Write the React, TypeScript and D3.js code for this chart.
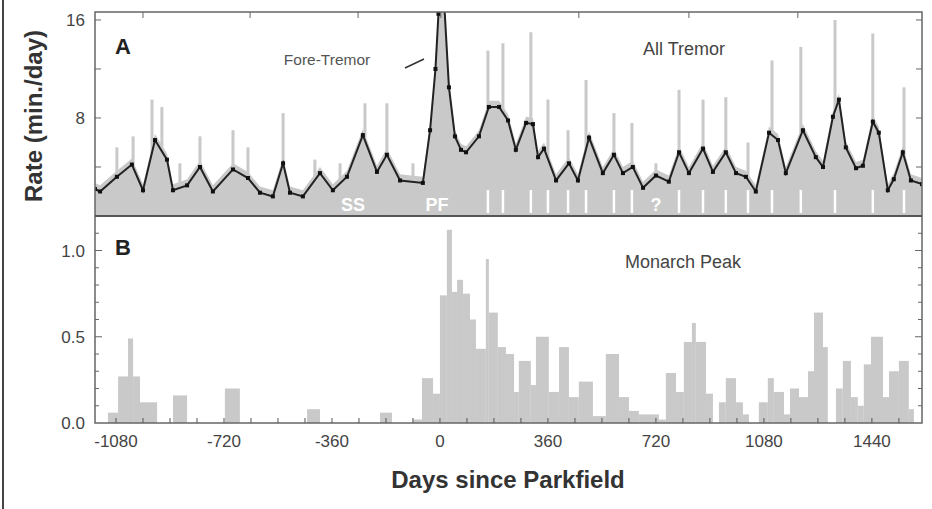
import * as d3 from 'd3';

const W = 932;
const H = 509;
const left = 95;
const right = 922;
const aTop = 12;
const mid = 216;
const bBottom = 423;

// panel A smoothed rate (day, min/day)
const smoothDays = [-1150, -1133, -1077, -1027, -990, -950, -910, -890, -843, -800, -757, -690, -640, -600, -557, -523, -500, -457, -400, -357, -310, -257, -210, -177, -133, -57, -33, -15, -5, 5, 15, 30, 50, 70, 87, 130, 163, 197, 227, 253, 287, 310, 327, 347, 387, 430, 460, 497, 543, 580, 610, 643, 677, 720, 763, 797, 830, 877, 910, 953, 987, 1020, 1053, 1097, 1127, 1153, 1210, 1253, 1277, 1310, 1330, 1353, 1387, 1410, 1443, 1463, 1493, 1513, 1543, 1570, 1607];
const smoothVals = [2.2, 2.0, 3.2, 4.2, 2.1, 6.2, 4.6, 2.1, 2.5, 4.0, 2.0, 3.8, 3.1, 1.9, 1.6, 4.3, 1.9, 1.6, 3.5, 2.1, 3.2, 6.6, 3.6, 5.0, 2.9, 2.7, 7.0, 12.0, 16.5, 17.5, 17.0, 10.5, 6.5, 5.4, 5.2, 6.5, 8.9, 8.9, 7.8, 5.4, 7.6, 7.5, 4.8, 5.5, 2.9, 4.3, 2.9, 6.4, 3.5, 5.0, 3.5, 4.0, 2.3, 3.3, 2.8, 5.2, 3.5, 5.5, 3.6, 5.2, 3.5, 3.2, 2.0, 6.8, 6.2, 3.5, 7.0, 4.8, 4.0, 8.1, 9.5, 5.6, 3.9, 4.1, 7.7, 6.8, 2.1, 3.0, 5.2, 2.9, 2.6];

// panel A daily spikes
const spikeDays = [-1077, -1023, -960, -927, -867, -800, -690, -640, -523, -417, -333, -250, -177, -90, 160, 210, 303, 360, 427, 487, 580, 640, 720, 797, 877, 953, 1027, 1107, 1203, 1317, 1443, 1547];
const spikeVals = [5.6, 6.5, 9.5, 8.9, 4.3, 6.5, 7.0, 5.6, 8.4, 4.6, 4.3, 9.2, 9.2, 4.3, 13.5, 14.1, 15.0, 9.5, 7.0, 11.1, 8.4, 7.6, 4.3, 10.3, 9.5, 9.7, 6.0, 12.7, 13.8, 16.0, 14.9, 10.5];

// white event markers in panel A
const markDays = [160, 210, 303, 360, 427, 487, 580, 640, 797, 877, 953, 1027, 1107, 1203, 1317, 1443, 1547];

// panel B histogram bins [start, end] and rate
const binStart = [-1107, -1073, -1040, -1023, -1000, -890, -717, -443, -200, -90, -60, -23, 0, 23, 40, 57, 77, 100, 120, 153, 163, 193, 220, 247, 263, 303, 320, 363, 397, 430, 463, 510, 553, 597, 630, 663, 730, 753, 787, 813, 840, 853, 887, 930, 953, 987, 1010, 1063, 1093, 1113, 1147, 1167, 1197, 1227, 1247, 1277, 1320, 1343, 1370, 1393, 1413, 1437, 1477, 1497, 1530, 1563];
const binEnd = [-1073, -1040, -1023, -1000, -943, -843, -667, -400, -160, -60, -23, 0, 23, 40, 57, 77, 100, 120, 153, 163, 193, 220, 247, 263, 303, 320, 363, 397, 430, 463, 510, 553, 597, 630, 663, 730, 753, 787, 813, 840, 853, 887, 910, 953, 987, 1010, 1030, 1093, 1113, 1147, 1167, 1197, 1227, 1247, 1277, 1293, 1343, 1370, 1393, 1413, 1437, 1477, 1497, 1530, 1563, 1580];
const binVals = [0.06, 0.27, 0.49, 0.27, 0.12, 0.16, 0.2, 0.08, 0.06, 0.02, 0.26, 0.17, 0.74, 1.12, 0.76, 0.83, 0.75, 0.6, 0.43, 0.95, 0.64, 0.44, 0.4, 0.18, 0.36, 0.22, 0.5, 0.18, 0.44, 0.15, 0.24, 0.04, 0.4, 0.15, 0.07, 0.05, 0.02, 0.29, 0.18, 0.47, 0.58, 0.47, 0.17, 0.12, 0.26, 0.12, 0.05, 0.12, 0.26, 0.18, 0.05, 0.2, 0.15, 0.3, 0.64, 0.44, 0.2, 0.36, 0.15, 0.1, 0.34, 0.5, 0.15, 0.3, 0.36, 0.08];

const xTicks = [-1080, -720, -360, 0, 360, 720, 1080, 1440];
const topTickDays = [-990, -633, -273, 3, 463, 830, 1193];
const aTicks = [8, 16];
const bTicks = [0, 0.5, 1.0];

const x = d3.scaleLinear().domain([-1150, 1607]).range([left, right]);
const yA = d3.scaleLinear().domain([0, 16.65]).range([mid, aTop]);
const yB = d3.scaleLinear().domain([0, 1.2]).range([bBottom, mid]);

const font = 'Liberation Sans, Arial, sans-serif';
const fill = '#c9c9c9';

export default function App() {
  const pts = smoothDays.map((d, i) => [d, smoothVals[i]] as [number, number]);
  const area = d3
    .area<[number, number]>()
    .x((d) => x(d[0]))
    .y0(mid)
    .y1((d) => yA(d[1] + 0.5));
  const line = d3
    .line<[number, number]>()
    .x((d) => x(d[0]))
    .y((d) => yA(d[1]));
  const minorB = d3.range(0.1, 1.2, 0.1);
  return (
    <svg width={W} height={H} style={{ position: 'absolute', left: 0, top: 0, background: '#fff' }} fontFamily={font}>
      <line x1={3} x2={3} y1={0} y2={H} stroke="#444" strokeWidth={2} />
      <defs>
        <clipPath id="ca">
          <rect x={left} y={aTop} width={right - left} height={mid - aTop} />
        </clipPath>
      </defs>
      <g clipPath="url(#ca)">
        <path d={area(pts) ?? ''} fill={fill} />
        {spikeDays.map((d, i) => (
          <line key={i} x1={x(d)} x2={x(d)} y1={mid} y2={yA(spikeVals[i])} stroke={fill} strokeWidth={3} />
        ))}
        <path d={line(pts) ?? ''} fill="none" stroke="#222" strokeWidth={2} />
        {pts.map((p, i) => (
          <rect key={i} x={x(p[0]) - 2} y={yA(p[1]) - 2} width={4} height={4} fill="#111" />
        ))}
        {markDays.map((d, i) => (
          <line key={i} x1={x(d)} x2={x(d)} y1={190} y2={213} stroke="#fff" strokeWidth={2.5} />
        ))}
      </g>
      <text x={x(-290)} y={211} fill="#fff" fontSize={18} fontWeight="bold" textAnchor="middle">SS</text>
      <text x={x(-10)} y={211} fill="#fff" fontSize={18} fontWeight="bold" textAnchor="middle">PF</text>
      <text x={x(720)} y={211} fill="#fff" fontSize={18} fontWeight="bold" textAnchor="middle">?</text>
      {binStart.map((s, i) => (
        <rect key={i} x={x(s)} y={yB(binVals[i])} width={x(binEnd[i]) - x(s)} height={bBottom - yB(binVals[i])} fill={fill} />
      ))}
      {/* frames */}
      <rect x={left} y={aTop} width={right - left} height={bBottom - aTop} fill="none" stroke="#666" strokeWidth={1.5} />
      <line x1={left} x2={right} y1={mid} y2={mid} stroke="#555" strokeWidth={2} />
      {topTickDays.map((d, i) => (
        <line key={i} x1={x(d)} x2={x(d)} y1={aTop} y2={aTop + 6} stroke="#666" />
      ))}
      {[4, 8, 12, 16].map((t) => (
        <g key={t}>
          <line x1={left} x2={left + 6} y1={yA(t)} y2={yA(t)} stroke="#666" />
          <line x1={right - 6} x2={right} y1={yA(t)} y2={yA(t)} stroke="#666" />
        </g>
      ))}
      {aTicks.map((t) => (
        <text key={t} x={left - 10} y={yA(t) + 6} fontSize={17} fill="#444" textAnchor="end">{t}</text>
      ))}
      {minorB.map((t, i) => (
        <g key={i}>
          <line x1={left} x2={left + (i % 5 === 4 ? 7 : 4)} y1={yB(t)} y2={yB(t)} stroke="#666" />
          <line x1={right - (i % 5 === 4 ? 7 : 4)} x2={right} y1={yB(t)} y2={yB(t)} stroke="#666" />
        </g>
      ))}
      {bTicks.map((t) => (
        <text key={t} x={left - 10} y={yB(t) + 6} fontSize={17} fill="#444" textAnchor="end">{t.toFixed(1)}</text>
      ))}
      {d3.range(-1080, 1600, 90).map((d) => (
        <line key={d} x1={x(d)} x2={x(d)} y1={bBottom} y2={bBottom - 5} stroke="#555" />
      ))}
      {xTicks.map((d) => (
        <text key={d} x={x(d)} y={bBottom + 24} fontSize={17} fill="#444" textAnchor="middle">{d}</text>
      ))}
      {/* labels */}
      <text x={115} y={54} fontSize={22} fontWeight="bold" fill="#222">A</text>
      <text x={115} y={255} fontSize={22} fontWeight="bold" fill="#222">B</text>
      <text x={327} y={65} fontSize={15.5} fill="#555" textAnchor="middle">Fore-Tremor</text>
      <line x1={405} x2={424} y1={68} y2={59} stroke="#333" strokeWidth={1.5} />
      <text x={684} y={55} fontSize={18} fill="#444" textAnchor="middle">All Tremor</text>
      <text x={683} y={268} fontSize={18} fill="#444" textAnchor="middle">Monarch Peak</text>
      <text transform="translate(42,116) rotate(-90)" fontSize={24} fontWeight="bold" fill="#333" textAnchor="middle">Rate (min./day)</text>
      <text x={508} y={488} fontSize={24} fontWeight="bold" fill="#333" textAnchor="middle">Days since Parkfield</text>
    </svg>
  );
}
